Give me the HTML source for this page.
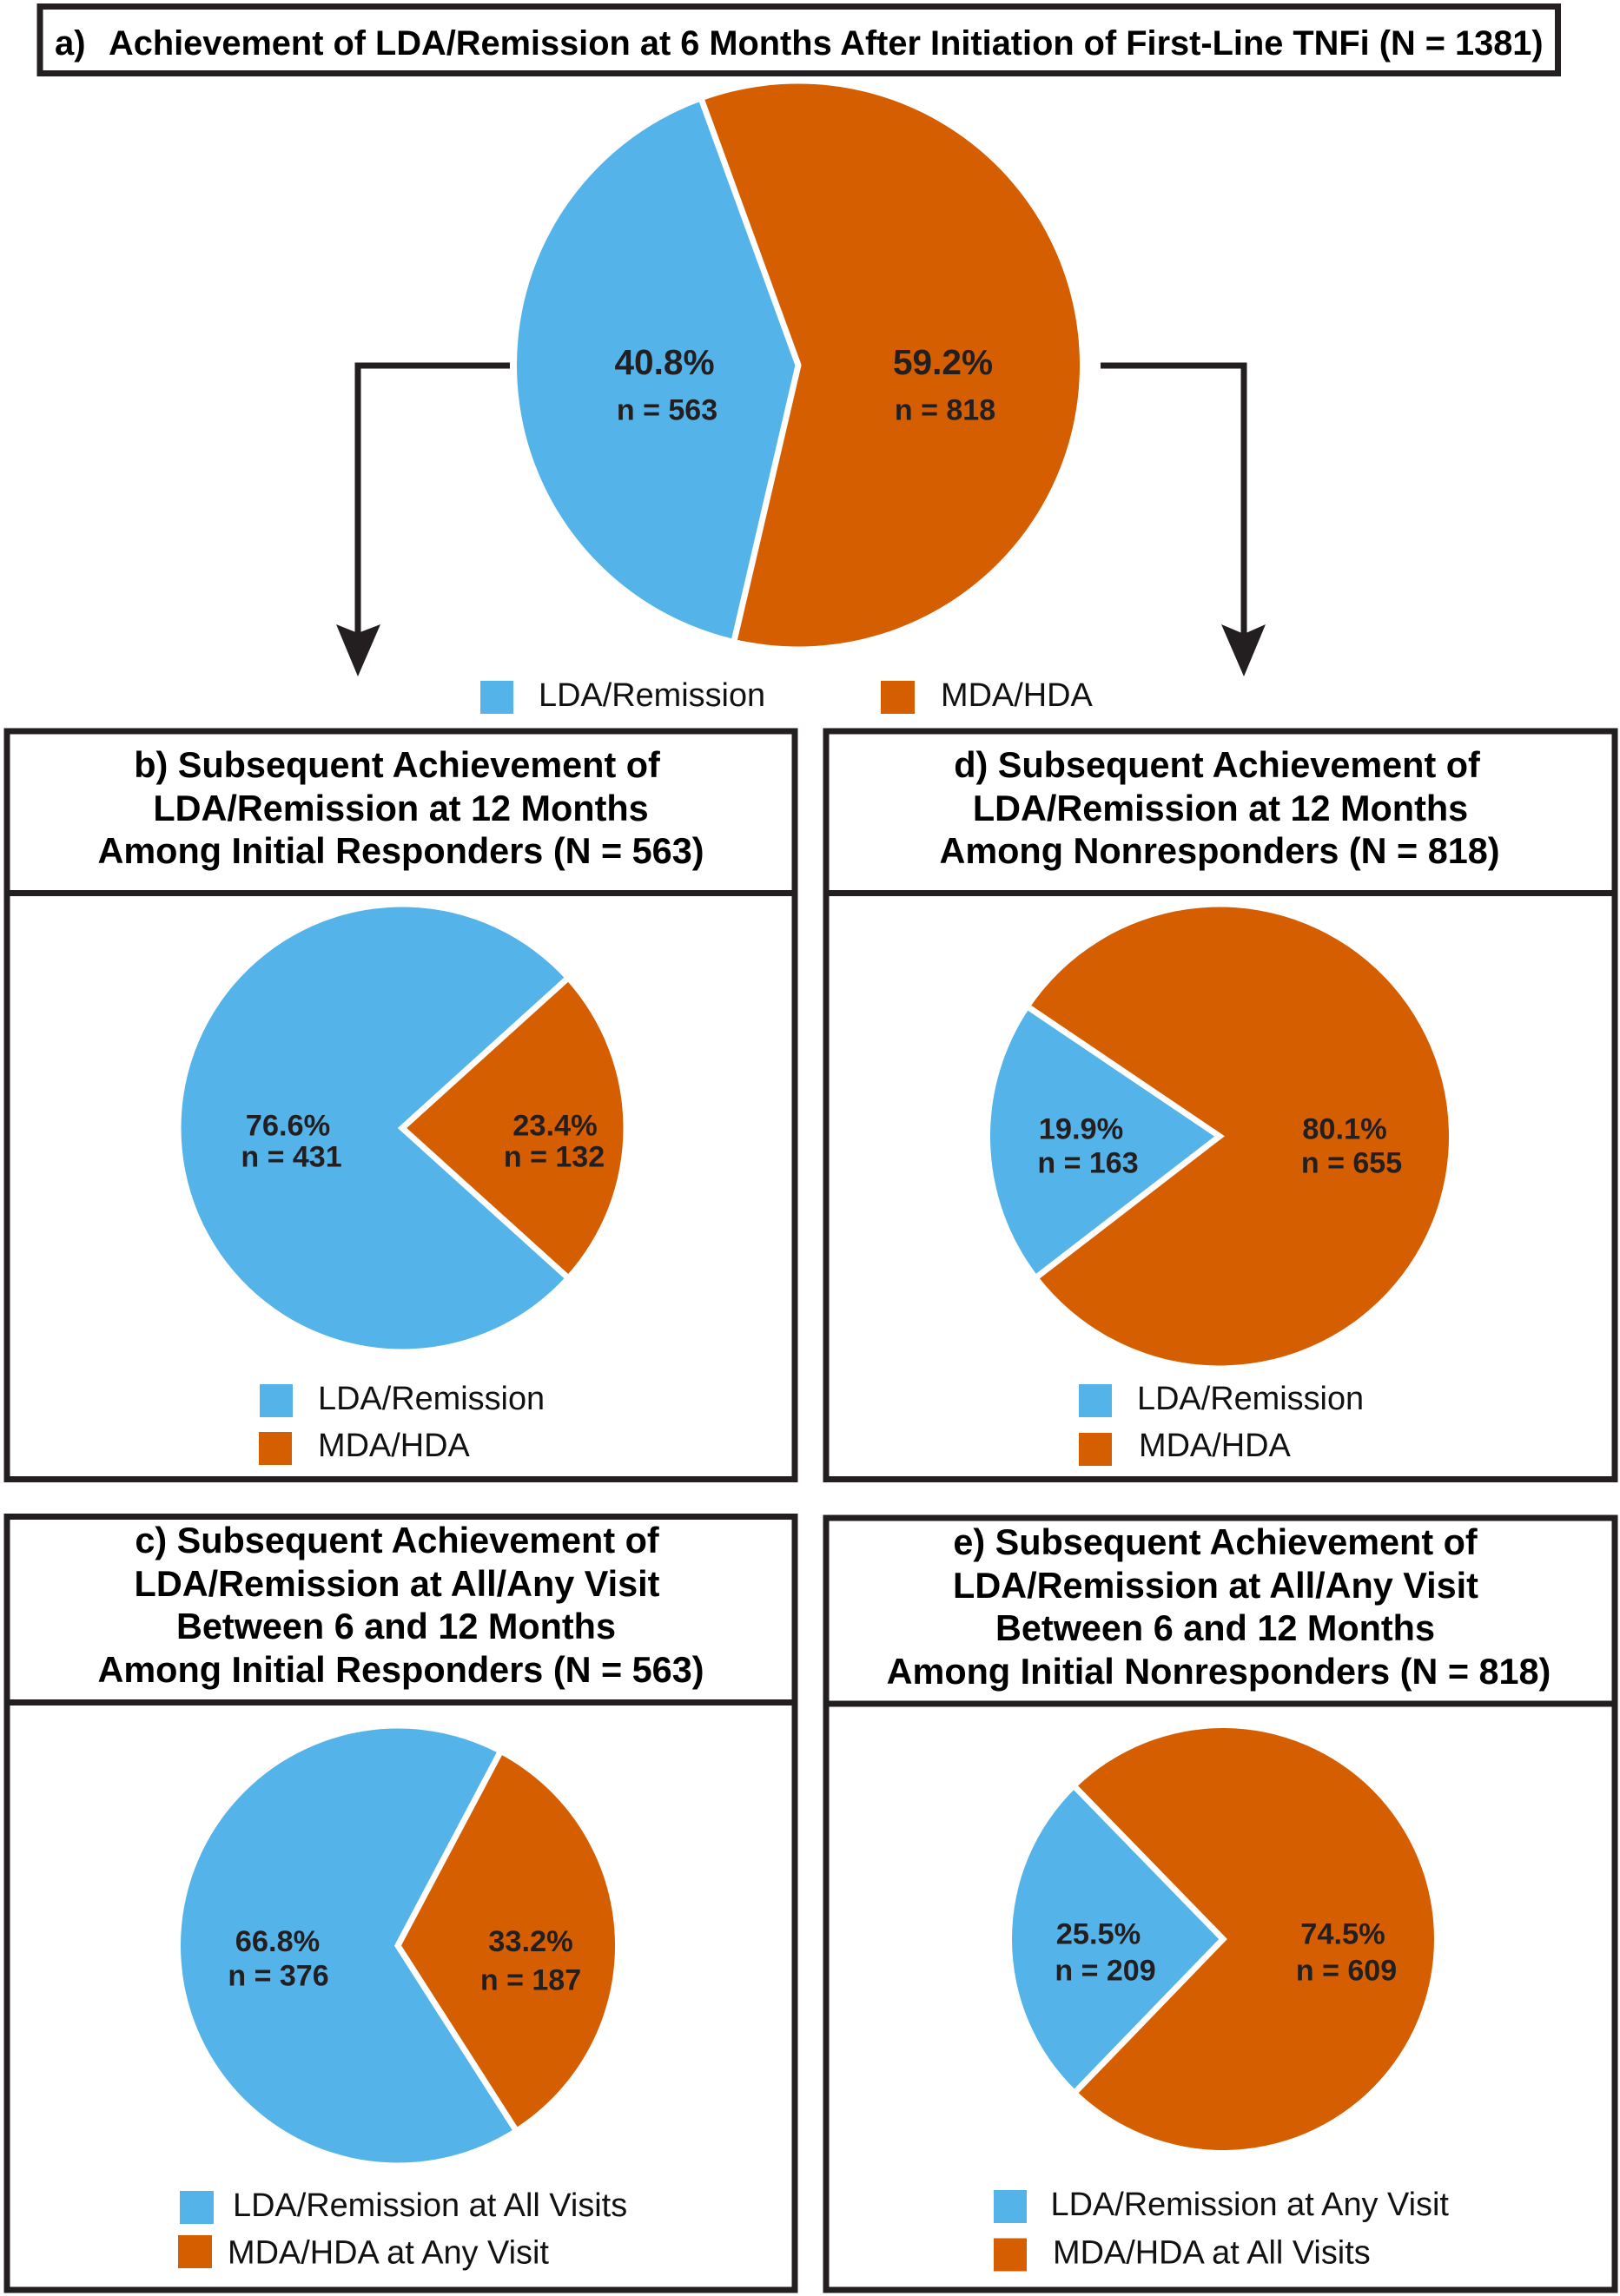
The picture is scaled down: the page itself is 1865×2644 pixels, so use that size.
<!DOCTYPE html>
<html lang="en">
<head>
<meta charset="utf-8">
<title>Achievement of LDA/Remission after First-Line TNFi</title>
<style>
html,body{margin:0;padding:0;background:#fff;}
svg{display:block;font-family:"Liberation Sans",Arial,sans-serif;}
.frame{fill:none;stroke:#231f20;stroke-width:7;}
.head{font-weight:700;font-size:41.4px;fill:#000;text-anchor:middle;}
.leg{font-size:37.9px;fill:#111;}
.pct{font-weight:700;fill:#231f20;text-anchor:middle;}
</style>
</head>
<body>
<svg id="figure" xmlns="http://www.w3.org/2000/svg" width="1865" height="2644" viewBox="0 0 1865 2644">
  <rect x="0" y="0" width="1865" height="2644" fill="#fff"/>

  <!-- Panel a -->
  <rect class="frame" x="46" y="7.5" width="1747.5" height="77"/>
  <text x="63" y="63" font-size="40" font-weight="700" fill="#000">a)</text>
  <text x="125" y="63" font-size="39.75" font-weight="700" fill="#000">Achievement of LDA/Remission at 6 Months After Initiation of First-Line TNFi (N = 1381)</text>

  <g id="pie-a"></g>

  <g>
    <path d="M587 421H412V730" fill="none" stroke="#231f20" stroke-width="7"/>
    <polygon points="387,719 412,729 438,719 412,779" fill="#231f20"/>
  </g>
  <g>
    <path d="M1267 421H1432V730" fill="none" stroke="#231f20" stroke-width="7"/>
    <polygon points="1406,719 1432,730 1457,719 1432,779" fill="#231f20"/>
  </g>

  <g>
    <rect x="553" y="784" width="38" height="38" fill="#54b4e9"/>
    <text class="leg" x="620" y="813">LDA/Remission</text>
    <rect x="1014" y="784" width="39" height="38" fill="#d55e00"/>
    <text class="leg" x="1083" y="813">MDA/HDA</text>
  </g>

  <!-- Panel b -->
  <rect class="frame" x="8" y="842" width="907" height="861.5"/>
  <line class="frame" x1="5" x2="918" y1="1028.5" y2="1028.5"/>
  <text class="head" x="457" y="895">b) Subsequent Achievement of</text>
  <text class="head" x="461.5" y="945">LDA/Remission at 12 Months</text>
  <text class="head" x="461.5" y="994">Among Initial Responders (N = 563)</text>
  <g id="pie-b"></g>
  <g>
    <rect x="299" y="1594" width="38" height="38" fill="#54b4e9"/>
    <text class="leg" x="366" y="1623">LDA/Remission</text>
    <rect x="298" y="1649" width="38" height="38" fill="#d55e00"/>
    <text class="leg" x="366" y="1677">MDA/HDA</text>
  </g>

  <!-- Panel d -->
  <rect class="frame" x="951" y="842" width="908" height="861.5"/>
  <line class="frame" x1="948" x2="1862" y1="1028.5" y2="1028.5"/>
  <text class="head" x="1401" y="895">d) Subsequent Achievement of</text>
  <text class="head" x="1405" y="945">LDA/Remission at 12 Months</text>
  <text class="head" x="1404" y="994">Among Nonresponders (N = 818)</text>
  <g id="pie-d"></g>
  <g>
    <rect x="1242" y="1594" width="38" height="38" fill="#54b4e9"/>
    <text class="leg" x="1309" y="1623">LDA/Remission</text>
    <rect x="1242" y="1650" width="38" height="38" fill="#d55e00"/>
    <text class="leg" x="1311" y="1677">MDA/HDA</text>
  </g>

  <!-- Panel c -->
  <rect class="frame" x="8" y="1746.5" width="907" height="890.5"/>
  <line class="frame" x1="5" x2="918" y1="1960.5" y2="1960.5"/>
  <text class="head" x="457" y="1788">c) Subsequent Achievement of</text>
  <text class="head" x="457" y="1838">LDA/Remission at All/Any Visit</text>
  <text class="head" x="456" y="1887">Between 6 and 12 Months</text>
  <text class="head" x="461.5" y="1937">Among Initial Responders (N = 563)</text>
  <g id="pie-c"></g>
  <g>
    <rect x="207" y="2523" width="39" height="38" fill="#54b4e9"/>
    <text class="leg" x="268" y="2552">LDA/Remission at All Visits</text>
    <rect x="205" y="2574" width="39" height="38" fill="#d55e00"/>
    <text class="leg" x="262" y="2606.5">MDA/HDA at Any Visit</text>
  </g>

  <!-- Panel e -->
  <rect class="frame" x="951" y="1748" width="908" height="889"/>
  <line class="frame" x1="948" x2="1862" y1="1962" y2="1962"/>
  <text class="head" x="1399" y="1790">e) Subsequent Achievement of</text>
  <text class="head" x="1399.5" y="1840">LDA/Remission at All/Any Visit</text>
  <text class="head" x="1399" y="1889">Between 6 and 12 Months</text>
  <text class="head" x="1403" y="1939">Among Initial Nonresponders (N = 818)</text>
  <g id="pie-e"></g>
  <g>
    <rect x="1144" y="2522" width="38" height="38" fill="#54b4e9"/>
    <text class="leg" x="1209.5" y="2551">LDA/Remission at Any Visit</text>
    <rect x="1144" y="2577.5" width="38" height="38" fill="#d55e00"/>
    <text class="leg" x="1212" y="2606.5">MDA/HDA at All Visits</text>
  </g>
</svg>

<script>
// Series values: [LDA/Remission share %, MDA/HDA share %] and patient counts.
const categories = ['lda', 'mda'];
const sharesA = [40.8, 59.2];
const countsA = [563, 818];
const sharesB = [76.6, 23.4];
const countsB = [431, 132];
const sharesC = [66.8, 33.2];
const countsC = [376, 187];
const sharesD = [19.9, 80.1];
const countsD = [163, 655];
const sharesE = [25.5, 74.5];
const countsE = [209, 609];

const sliceColors = { lda: '#54b4e9', mda: '#d55e00' };
const svgNS = 'http://www.w3.org/2000/svg';

// Angle scale: percent to degrees clockwise from 12 o'clock.
function angleOf(share) {
  return share * 3.6;
}
function pointAt(cx, cy, r, deg) {
  const a = (deg - 90) * Math.PI / 180;
  return [cx + r * Math.cos(a), cy + r * Math.sin(a)];
}

function drawPie(id, shares, counts, geom, labelSpots) {
  const group = document.getElementById(id);
  let angle = geom.start;
  const boundaries = [];
  categories.forEach(function (cat, i) {
    const sweep = angleOf(shares[i]);
    const p0 = pointAt(geom.cx, geom.cy, geom.r, angle);
    const p1 = pointAt(geom.cx, geom.cy, geom.r, angle + sweep);
    const slice = document.createElementNS(svgNS, 'path');
    slice.setAttribute('d', 'M' + geom.cx + ' ' + geom.cy + 'L' + p0[0] + ' ' + p0[1] +
      'A' + geom.r + ' ' + geom.r + ' 0 ' + (sweep > 180 ? 1 : 0) + ' 1 ' + p1[0] + ' ' + p1[1] + 'Z');
    slice.setAttribute('fill', sliceColors[cat]);
    
    
    group.appendChild(slice);
    boundaries.push(angle);
    angle += sweep;
  });

  const e0 = pointAt(geom.cx, geom.cy, geom.r + 3, boundaries[0]);
  const e1 = pointAt(geom.cx, geom.cy, geom.r + 3, boundaries[1]);
  const sep = document.createElementNS(svgNS, 'polyline');
  sep.setAttribute('points', e0[0] + ',' + e0[1] + ' ' + geom.cx + ',' + geom.cy + ' ' + e1[0] + ',' + e1[1]);
  sep.setAttribute('fill', 'none');
  sep.setAttribute('stroke', '#fff');
  sep.setAttribute('stroke-width', geom.gap);
  sep.setAttribute('stroke-linejoin', 'miter');
  
  
  group.appendChild(sep);

  categories.forEach(function (cat, i) {
    const spot = labelSpots[i];
    const pct = document.createElementNS(svgNS, 'text');
    pct.setAttribute('class', 'pct');
    pct.setAttribute('x', spot.px);
    pct.setAttribute('y', spot.py);
    pct.setAttribute('font-size', geom.pctSize);
    pct.textContent = shares[i].toFixed(1) + '%';
    
    
    group.appendChild(pct);

    const cnt = document.createElementNS(svgNS, 'text');
    cnt.setAttribute('class', 'pct');
    cnt.setAttribute('x', spot.nx);
    cnt.setAttribute('y', spot.ny);
    cnt.setAttribute('font-size', 34);
    cnt.textContent = 'n = ' + counts[i];
    
    
    group.appendChild(cnt);
  });
}

drawPie('pie-a', sharesA, countsA,
  { cx: 919, cy: 420.5, r: 324, start: 193.1, gap: 7, pctSize: 40.6 },
  [{ px: 765, py: 431, nx: 768, ny: 483.5 }, { px: 1085.5, py: 431, nx: 1088, ny: 483.5 }]);

drawPie('pie-b', sharesB, countsB,
  { cx: 463, cy: 1299, r: 254.5, start: 132.1, gap: 7, pctSize: 34.4 },
  [{ px: 331.5, py: 1307.5, nx: 335.5, ny: 1343.5 }, { px: 639, py: 1307.5, nx: 638, ny: 1343.5 }]);

drawPie('pie-d', sharesD, countsD,
  { cx: 1404, cy: 1308.5, r: 264, start: 232.4, gap: 7, pctSize: 34.4 },
  [{ px: 1244.5, py: 1311.5, nx: 1252.5, ny: 1350.5 }, { px: 1548, py: 1311.5, nx: 1556, ny: 1350.5 }]);

drawPie('pie-c', sharesC, countsC,
  { cx: 458, cy: 2240.5, r: 250, start: 147.4, gap: 7, pctSize: 34.4 },
  [{ px: 319.5, py: 2247, nx: 320.5, ny: 2286.5 }, { px: 611, py: 2247, nx: 611, ny: 2291.5 }]);

drawPie('pie-e', sharesE, countsE,
  { cx: 1408, cy: 2233, r: 243, start: 224, gap: 7, pctSize: 34.4 },
  [{ px: 1264.5, py: 2238.5, nx: 1272.5, ny: 2280.5 }, { px: 1546, py: 2238.5, nx: 1550, ny: 2280.5 }]);
</script>
</body>
</html>
